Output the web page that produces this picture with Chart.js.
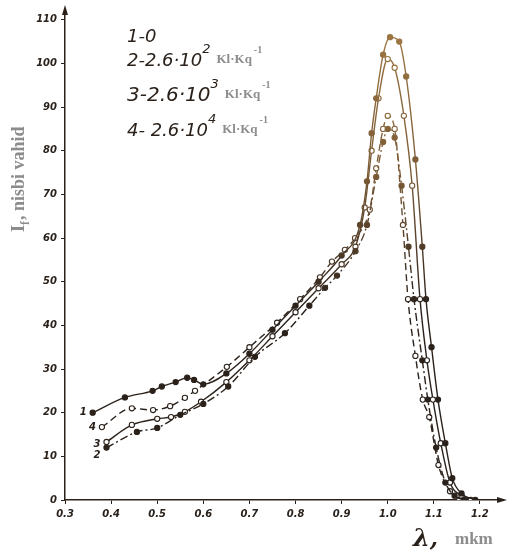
<!DOCTYPE html>
<html lang="uz">
<head>
<meta charset="UTF-8">
<title>Lyuminessensiya spektri</title>
<script src="https://cdn.jsdelivr.net/npm/chart.js"></script>
<style>
  body { margin: 0; background: #fff; }
  #wrap { width: 513px; height: 556px; }
</style>
</head>
<body>
<div id="wrap"><canvas id="spectrChart" width="513" height="556"></canvas></div>
<script>
// x - to'lqin uzunligi (mkm), y - intensivlik (nisbi vahid)
const x1 = [0.36, 0.43, 0.49, 0.51, 0.54, 0.565, 0.58, 0.60, 0.65, 0.70, 0.75, 0.80, 0.85, 0.90, 0.94, 0.955, 0.965, 0.975, 0.99, 1.005, 1.025, 1.04, 1.06, 1.075, 1.083, 1.095, 1.109, 1.125, 1.14, 1.16, 1.19];
const y1 = [20, 23.5, 25, 26, 27, 28, 27.5, 26.5, 29, 33.5, 39, 44.5, 50, 56, 63, 73, 84, 92, 102, 106, 105, 97, 78, 58, 46, 35, 23, 13, 5, 1.5, 0];

const x2 = [0.39, 0.456, 0.50, 0.55, 0.60, 0.654, 0.712, 0.777, 0.83, 0.864, 0.89, 0.93, 0.955, 0.975, 0.99, 1.0, 1.015, 1.03, 1.045, 1.057, 1.075, 1.087, 1.105, 1.125, 1.145, 1.165];
const y2 = [12, 15.6, 16.5, 19.5, 22, 26, 32.8, 38.2, 44.5, 48.6, 51.4, 57, 63, 74, 82, 85, 83, 72, 58, 46, 32, 23, 12, 4, 1, 0];

const x3 = [0.39, 0.445, 0.50, 0.53, 0.56, 0.595, 0.65, 0.70, 0.75, 0.80, 0.85, 0.90, 0.93, 0.95, 0.965, 0.98, 1.0, 1.015, 1.035, 1.053, 1.07, 1.085, 1.098, 1.115, 1.135, 1.16, 1.18];
const y3 = [13.3, 17.2, 18.6, 19, 20.2, 22.5, 27, 32, 37.5, 43, 48.5, 54, 58, 67, 80, 92, 101, 99, 88, 72, 46, 32, 23, 13, 4, 1, 0];

const x4 = [0.38, 0.445, 0.491, 0.528, 0.56, 0.582, 0.651, 0.70, 0.76, 0.81, 0.853, 0.879, 0.907, 0.929, 0.961, 0.975, 0.99, 1.0, 1.015, 1.033, 1.044, 1.06, 1.076, 1.09, 1.11, 1.135, 1.155];
const y4 = [16.7, 21, 20.6, 21.5, 23.4, 25, 30.5, 35, 40.6, 46, 51, 54.6, 57.3, 60, 66.5, 76, 85, 88, 85, 63, 46, 33, 23, 19, 8, 2, 0];

const seriesLabels = ['1', '2', '3', '4'];
const legendLines = [
  { num: '1-0', exp: '' },
  { num: '2-2.6·10', exp: '2' },
  { num: '3-2.6·10', exp: '3' },
  { num: '4- 2.6·10', exp: '4' }
];
const unitText = 'Kl·Kq';
const unitExp = '-1';
const xTitle = 'λ,';
const xUnit = 'mkm';
const yTitle = ', nisbi vahid';

const ink = '#2a211b';
const grey = '#8c8c8c';

function pts(xs, ys) {
  return xs.map((x, i) => ({ x: x, y: ys[i] }));
}

// yuqori qismi (cho'qqi) jigarrang bo'lib ko'rinadi
let inkGrad = null;
function lineColor(ctx) {
  const chart = ctx.chart;
  const a = chart.chartArea;
  if (!a) return ink;
  if (!inkGrad) {
    inkGrad = chart.ctx.createLinearGradient(0, a.top, 0, a.top + 300);
    inkGrad.addColorStop(0, '#a27a44');
    inkGrad.addColorStop(0.55, '#7a5a36');
    inkGrad.addColorStop(1, ink);
  }
  return inkGrad;
}

const textPlugin = {
  id: 'textPlugin',
  afterDraw(chart) {
    const c = chart.ctx;
    const a = chart.chartArea;
    c.save();

    // o'q strelkalari
    c.fillStyle = ink;
    c.beginPath();
    c.moveTo(a.left, a.top - 6); c.lineTo(a.left - 3, a.top + 4); c.lineTo(a.left + 3, a.top + 4);
    c.fill();
    c.beginPath();
    c.moveTo(a.right + 4, a.bottom); c.lineTo(a.right - 6, a.bottom - 3); c.lineTo(a.right - 6, a.bottom + 3);
    c.fill();

    // y o'qi nomi
    c.save();
    c.translate(24, 232);
    c.rotate(-Math.PI / 2);
    c.fillStyle = grey;
    c.textBaseline = 'alphabetic';
    c.font = 'bold 18px "Liberation Serif"';
    c.fillText('I', 0, 0);
    c.font = 'bold 12px "Liberation Serif"';
    c.fillText('f', 7, 5);
    c.font = 'bold 18px "Liberation Serif"';
    c.fillText(yTitle, 12, 0);
    c.restore();

    // x o'qi nomi
    c.fillStyle = ink;
    c.font = 'bold italic 24px "DejaVu Serif"';
    c.textBaseline = 'alphabetic';
    c.fillText(xTitle, 413, 546);
    c.fillStyle = grey;
    c.font = 'bold 17px "Liberation Serif"';
    c.fillText(xUnit, 455, 544);

    // legenda
    const rows = [42, 66, 101, 136];
    const sizes = [18, 18, 20, 18];
    legendLines.forEach((l, i) => {
      c.fillStyle = ink;
      c.font = 'italic ' + sizes[i] + 'px "DejaVu Sans"';
      c.fillText(l.num, 127, rows[i]);
      if (!l.exp) return;
      let x = 127 + c.measureText(l.num).width;
      c.font = 'italic 13px "DejaVu Sans"';
      c.fillText(l.exp, x, rows[i] - 13);
      x += c.measureText(l.exp).width + 6;
      c.fillStyle = grey;
      c.font = 'bold 13px "Liberation Serif"';
      c.fillText(unitText, x, rows[i] - 3);
      x += c.measureText(unitText).width + 2;
      c.font = 'bold 10px "Liberation Serif"';
      c.fillText(unitExp, x, rows[i] - 13);
    });

    // egri chiziqlar raqamlari
    c.fillStyle = ink;
    c.font = 'bold italic 10px "DejaVu Sans"';
    c.textAlign = 'right';
    c.textBaseline = 'middle';
    chart.data.datasets.forEach((ds, i) => {
      const p = ds.data[0];
      const px = chart.scales.x.getPixelForValue(p.x);
      const py = chart.scales.y.getPixelForValue(p.y);
      const dy = [0, 8, 2, 0][i];
      c.fillText(seriesLabels[i], px - 6, py + dy);
    });
    c.restore();
  }
};

function makeSet(xs, ys, dash, filled) {
  return {
    data: pts(xs, ys),
    showLine: true,
    borderColor: lineColor,
    borderWidth: 1.4,
    borderDash: dash,
    cubicInterpolationMode: 'monotone',
    pointRadius: 2.6,
    pointBorderWidth: 1.1,
    pointBorderColor: lineColor,
    pointBackgroundColor: filled ? lineColor : '#fff'
  };
}

new Chart(document.getElementById('spectrChart'), {
  type: 'scatter',
  data: {
    datasets: [
      makeSet(x1, y1, [], true),
      makeSet(x2, y2, [8, 3, 2, 3], true),
      makeSet(x3, y3, [], false),
      makeSet(x4, y4, [7, 4], false)
    ]
  },
  options: {
    responsive: false,
    animation: false,
    layout: { padding: { top: 11, right: 10, left: 0, bottom: 0 } },
    plugins: { legend: { display: false }, tooltip: { enabled: false } },
    scales: {
      x: {
        type: 'linear',
        min: 0.3,
        max: 1.25,
        afterFit: s => { s.height = 56; },
        grid: { drawOnChartArea: false, tickLength: 4, color: ink },
        border: { color: ink, width: 1.5 },
        ticks: {
          stepSize: 0.1,
          includeBounds: false,
          color: ink,
          padding: 4,
          font: { family: 'DejaVu Sans', size: 10, style: 'italic', weight: 'bold' },
          callback: v => v.toFixed(1)
        }
      },
      y: {
        min: 0,
        max: 112,
        afterFit: s => { s.width = 65; },
        grid: { drawOnChartArea: false, tickLength: 4, color: ink },
        border: { color: ink, width: 1.5 },
        ticks: {
          stepSize: 10,
          includeBounds: false,
          color: ink,
          padding: 4,
          font: { family: 'DejaVu Sans', size: 10, style: 'italic', weight: 'bold' }
        }
      }
    }
  },
  plugins: [textPlugin]
});
</script>
</body>
</html>
